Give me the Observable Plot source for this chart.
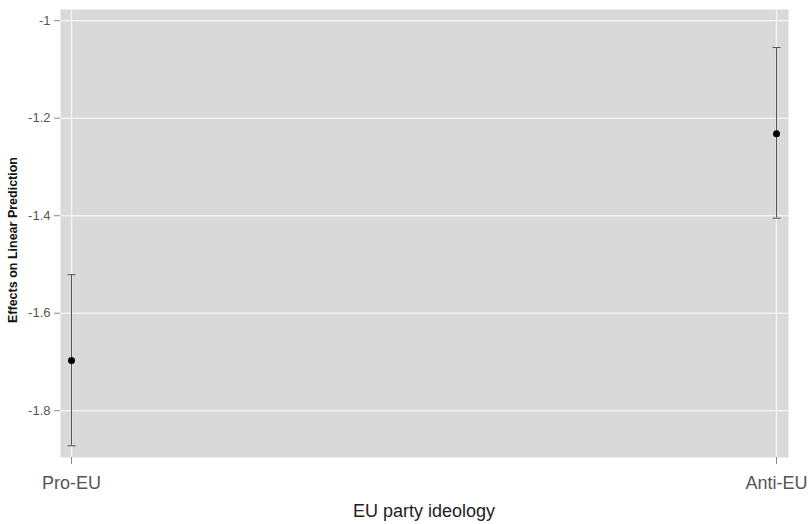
<!DOCTYPE html>
<html>
<head>
<meta charset="utf-8">
<script src="https://cdn.jsdelivr.net/npm/d3@7"></script>
<script src="https://cdn.jsdelivr.net/npm/@observablehq/plot@0.6"></script>
<style>
  html, body { margin: 0; padding: 0; background: #fff; }
  svg { font-family: "Liberation Sans", Arial, sans-serif; }
</style>
</head>
<body>
<div id="chart"></div>
<script>
const categories = ["Pro-EU", "Anti-EU"];
const estimates = [-1.697, -1.232];
const lower = [-1.872, -1.405];
const upper = [-1.521, -1.055];
const yTicks = [-1.8, -1.6, -1.4, -1.2, -1];
const yTickLabels = ["-1.8", "-1.6", "-1.4", "-1.2", "-1"];
const xTitle = "EU party ideology";
const yTitle = "Effects on Linear Prediction";

const data = categories.map((c, i) => ({cat: c, est: estimates[i], lo: lower[i], hi: upper[i]}));

const capSymbol = {
  draw(ctx, size) {
    const r = Math.sqrt(size / Math.PI);
    ctx.moveTo(-r, 0);
    ctx.lineTo(r, 0);
  }
};

const W = 809, H = 524;
const chart = Plot.plot({
  width: W,
  height: H,
  marginLeft: 60,
  marginRight: 21,
  marginTop: 9,
  marginBottom: 67,
  style: {background: "#fff", fontFamily: "'Liberation Sans', Arial, sans-serif"},
  x: {type: "point", domain: categories, padding: 0, insetLeft: 11, insetRight: 12},
  y: {domain: [-1.896, -0.977]},
  marks: [
    Plot.frame({fill: "#d9d9d9", stroke: null}),
    Plot.gridY(yTicks, {stroke: "#f2f2f2", strokeOpacity: 1, strokeWidth: 1.5}),
    Plot.gridX(categories, {stroke: "#f2f2f2", strokeOpacity: 1, strokeWidth: 1.5}),
    Plot.axisY(yTicks, {
      tickFormat: (d) => yTickLabels[yTicks.indexOf(d)],
      tickSize: 6, tickPadding: 4, fontSize: 13, color: "#555", stroke: "#888", label: null
    }),
    Plot.axisX(categories, {
      tickSize: 7, tickPadding: 12, fontSize: 18, color: "#555", stroke: "#888", label: null
    }),
    Plot.ruleX(data, {x: "cat", y1: "lo", y2: "hi", stroke: "#555", strokeWidth: 1}),
    Plot.dot(data, {x: "cat", y: "lo", symbol: capSymbol, r: 4, stroke: "#555", strokeWidth: 1}),
    Plot.dot(data, {x: "cat", y: "hi", symbol: capSymbol, r: 4, stroke: "#555", strokeWidth: 1}),
    Plot.dot(data, {x: "cat", y: "est", r: 3.5, fill: "#000", stroke: null})
  ]
});

const svg = d3.select(chart);
svg.append("text")
  .attr("x", (60 + W - 21) / 2)
  .attr("y", 517)
  .attr("text-anchor", "middle")
  .attr("font-size", 18)
  .attr("fill", "#222")
  .text(xTitle);
svg.append("text")
  .attr("transform", `translate(17, ${240}) rotate(-90)`)
  .attr("text-anchor", "middle")
  .attr("font-size", 12.5)
  .attr("font-weight", "bold")
  .attr("fill", "#111")
  .text(yTitle);

document.getElementById("chart").appendChild(chart);
</script>
</body>
</html>
